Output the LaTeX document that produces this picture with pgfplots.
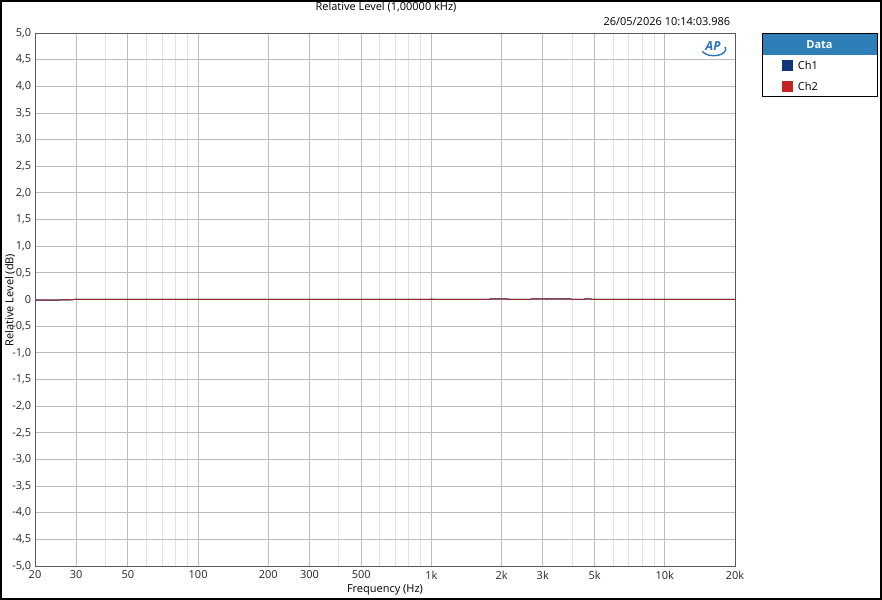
\documentclass[border=0pt]{standalone}
\usepackage{pgfplots}
\pgfplotsset{compat=1.18}
\usepackage{fontspec}
\setmainfont{Open Sans}

\definecolor{chone}{RGB}{18,52,120}
\definecolor{chtwo}{RGB}{196,36,36}
\definecolor{trace}{RGB}{150,40,45}
\definecolor{hdr}{RGB}{46,126,184}
\definecolor{aplogo}{RGB}{40,115,185}

\newcommand\lbl{\fontsize{11bp}{13bp}\selectfont}

\begin{document}
\lbl
\begin{tikzpicture}[x=1bp,y=1bp]
\useasboundingbox (0,0) rectangle (882,600);
\draw[line width=1.6bp] (0.8,0.8) rectangle (881.2,599.2);

\begin{axis}[
    at={(35bp,34bp)}, anchor=south west,
    width=700bp, height=533bp, scale only axis,
    xmode=log, xmin=20, xmax=20000, ymin=-5, ymax=5,
    log basis x=10,
    xtick={20,30,50,100,200,300,500,1000,2000,3000,5000,10000,20000},
    xticklabels={20,30,50,100,200,300,500,1k,2k,3k,5k,10k,20k},
    minor xtick={40,60,70,80,90,400,600,700,800,900,4000,6000,7000,8000,9000},
    ytick={-5,-4.5,...,5},
    yticklabels={{-5,0},{-4,5},{-4,0},{-3,5},{-3,0},{-2,5},{-2,0},{-1,5},{-1,0},{-0,5},0,{0,5},{1,0},{1,5},{2,0},{2,5},{3,0},{3,5},{4,0},{4,5},{5,0}},
    major tick length=0pt, minor tick length=0pt,
    grid=both,
    major grid style={draw=black!26, line width=0.8bp},
    minor grid style={draw=black!11, line width=0.8bp},
    axis line style={draw=black!65, line width=0.9bp},
    tick label style={font=\lbl, text=black!85},
    xticklabel style={yshift=-1bp},
    /pgf/number format/assume math mode=true,
    clip=true,
]
\addplot[chone, line width=1bp] coordinates {
(20,-0.012) (25,-0.010) (28,-0.008) (29.5,0) (100,0) (500,0) (960,0) (1000,0.006) (1040,0)
(1750,0) (1800,0.012) (2100,0.012) (2170,0) (2640,0) (2700,0.012) (3100,0.012)
(3130,0.004) (3160,0.012) (3950,0.012) (4010,0) (4470,0) (4560,0.012) (4800,0.012) (4880,0) (20000,0)
};
\addplot[trace, line width=1bp] coordinates {
(20,-0.012) (25,-0.010) (28,-0.008) (29.5,0) (100,0) (500,0) (960,0) (1000,0.006) (1040,0)
(1750,0) (1800,0.012) (2100,0.012) (2170,0) (2640,0) (2700,0.012) (3100,0.012)
(3130,0.004) (3160,0.012) (3950,0.012) (4010,0) (4470,0) (4560,0.012) (4800,0.012) (4880,0) (20000,0)
};
\end{axis}

% axis titles
\node at (385,10) {Frequency (Hz)};
\node[rotate=90] at (10,300) {Relative Level (dB)};
\node at (386,593) {Relative Level (1,00000 kHz)};
\node[anchor=east] at (734,578) {26/05/2026 10:14:03.986};

% AP logo
\draw[aplogo, line width=1.4bp] (725,553) arc (20:-160:12 and 6.5);
\node[aplogo, font=\fontsize{12.5bp}{13bp}\selectfont\bfseries\itshape, inner sep=0bp] at (713,553.5) {AP};

% legend
\fill[hdr] (762,545) rectangle (877,566);
\node[white, font=\lbl\bfseries] at (819.5,555.5) {Data};
\draw[black, line width=1bp] (762,503) rectangle (877,566);
\fill[chone] (782,529) rectangle (793,540);
\node[anchor=west] at (794,534.5) {Ch1};
\fill[chtwo] (782,508) rectangle (793,519);
\node[anchor=west] at (794,513.5) {Ch2};
\end{tikzpicture}
\end{document}
